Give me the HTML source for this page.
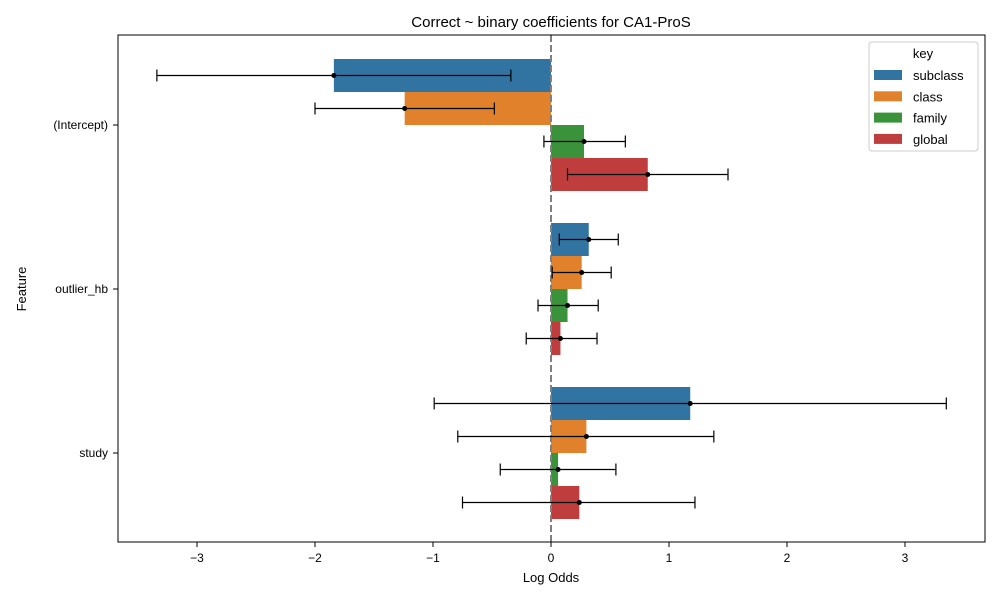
<!DOCTYPE html>
<html><head><meta charset="utf-8"><style>
body{margin:0;background:#fff;}
svg text{font-family:"Liberation Sans","DejaVu Sans",sans-serif;fill:#000;}
</style></head><body>
<svg id="chart" width="1000" height="600" xmlns="http://www.w3.org/2000/svg">
<text x="551" y="27" font-size="15" text-anchor="middle">Correct ~ binary coefficients for CA1-ProS</text>
<g id="plot"></g>
<rect x="118" y="35" width="867" height="507" fill="none" stroke="#000" stroke-width="1"/>
<text x="551" y="582" font-size="13" text-anchor="middle">Log Odds</text>
<text x="26" y="289" font-size="13" text-anchor="middle" transform="rotate(-90 26 289)">Feature</text>
<g>
<rect x="869" y="42" width="109" height="109" fill="#fff" fill-opacity="0.8" stroke="#ccc" rx="3"/>
<text x="923" y="58" font-size="13" text-anchor="middle">key</text>
<g id="legend-items"></g>
</g>
</svg>
<script>
const categories=["(Intercept)","outlier_hb","study"];
const keys=["subclass","class","family","global"];
const colors=["#3274a1","#e1812c","#3a923a","#c03d3e"];
const subclassVals=[-1.84,0.32,1.18];
const classVals=[-1.24,0.26,0.30];
const familyVals=[0.28,0.14,0.06];
const globalVals=[0.82,0.08,0.24];
const subclassLo=[-3.34,0.07,-0.99];
const subclassHi=[-0.34,0.57,3.35];
const classLo=[-2.00,0.01,-0.79];
const classHi=[-0.48,0.51,1.38];
const familyLo=[-0.06,-0.11,-0.43];
const familyHi=[0.63,0.40,0.55];
const globalLo=[0.14,-0.21,-0.75];
const globalHi=[1.50,0.39,1.22];
const xTicks=[-3,-2,-1,0,1,2,3];

const vals=[subclassVals,classVals,familyVals,globalVals];
const los=[subclassLo,classLo,familyLo,globalLo];
const his=[subclassHi,classHi,familyHi,globalHi];
const NS="http://www.w3.org/2000/svg";
const x=v=>551+v*118;
const yc=i=>125+i*164;
const bh=33;
const g=document.getElementById('plot');
function mk(t,a,p){const e=document.createElementNS(NS,t);for(const k in a)e.setAttribute(k,a[k]);(p||g).appendChild(e);return e;}
xTicks.forEach(t=>{
  const l=mk('line',{x1:x(t),x2:x(t),y1:542,y2:547,stroke:'#000'});
  
  
  const tx=mk('text',{x:x(t),y:562,'font-size':12,'text-anchor':'middle'});
  tx.textContent=t<0?'\u2212'+(-t):String(t);
  
  
});
categories.forEach((c,i)=>{
  const l=mk('line',{x1:113,x2:118,y1:yc(i),y2:yc(i),stroke:'#000'});
  
  
  const tx=mk('text',{x:108,y:yc(i)+4,'font-size':12,'text-anchor':'end'});
  tx.textContent=c;
  
  
});
keys.forEach((k,j)=>{
  categories.forEach((c,i)=>{
    const v=vals[j][i];const cy=yc(i)+(j-1.5)*bh;
    const r=mk('rect',{x:Math.min(x(0),x(v)),y:cy-bh/2,width:Math.abs(x(v)-x(0)),height:bh,fill:colors[j]});
    
    
  });
});
mk('line',{x1:551,x2:551,y1:35,y2:542,stroke:'#808080','stroke-width':2,'stroke-dasharray':'7,3'});
keys.forEach((k,j)=>{
  categories.forEach((c,i)=>{
    const cy=yc(i)+(j-1.5)*bh;const lo=x(los[j][i]),hi=x(his[j][i]);
    const e=mk('g',{stroke:'#000','stroke-width':1.2});
    
    
    mk('line',{x1:lo,x2:hi,y1:cy,y2:cy},e);
    mk('line',{x1:lo,x2:lo,y1:cy-6,y2:cy+6},e);
    mk('line',{x1:hi,x2:hi,y1:cy-6,y2:cy+6},e);
    const p=mk('circle',{cx:x(vals[j][i]),cy:cy,r:2.5,fill:'#000'});
    
    
  });
});
const lg=document.getElementById('legend-items');
keys.forEach((k,j)=>{
  const y=75+j*21.3;
  const r=mk('rect',{x:874,y:y-5,width:28,height:10,fill:colors[j]},lg);
  
  
  const t=mk('text',{x:913,y:y+5,'font-size':13},lg);
  t.textContent=k;
  
  
});
</script>
</body></html>
